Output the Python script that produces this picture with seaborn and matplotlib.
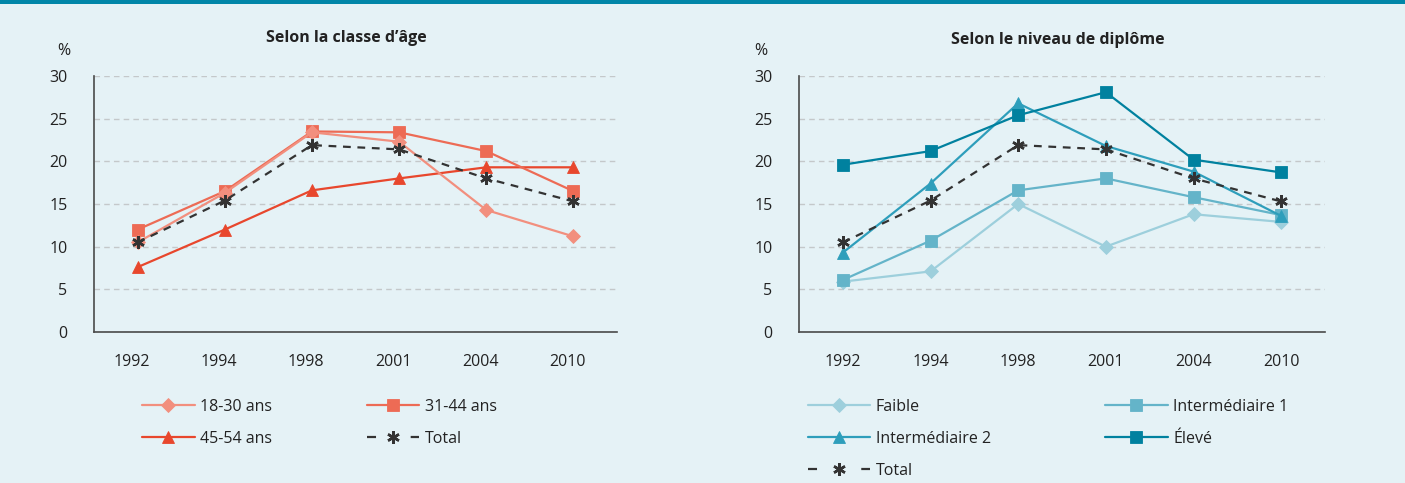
import matplotlib
matplotlib.use('Agg')
import matplotlib.pyplot as plt
import seaborn as sns
from matplotlib.patches import Rectangle
from matplotlib.transforms import ScaledTranslation

years = ['1992', '1994', '1998', '2001', '2004', '2010']

# Selon la classe d'âge
age_18_30 = [10.5, 16.3, 23.4, 22.3, 14.3, 11.2]
age_31_44 = [12.0, 16.5, 23.5, 23.4, 21.2, 16.5]
age_45_54 = [7.6, 12.0, 16.6, 18.0, 19.3, 19.3]
total = [10.5, 15.4, 21.9, 21.4, 18.0, 15.3]

# Selon le niveau de diplôme
faible = [5.9, 7.1, 15.0, 10.0, 13.8, 12.9]
inter_1 = [6.1, 10.7, 16.6, 18.0, 15.8, 13.7]
inter_2 = [9.3, 17.4, 26.8, 21.8, 18.8, 13.6]
eleve = [19.6, 21.2, 25.4, 28.1, 20.2, 18.7]

BG = '#e5f2f6'
TXT = '#222222'
LW = 1.6

sns.set_theme(style='white')
plt.rcParams['font.family'] = ['Open Sans', 'DejaVu Sans']

fig = plt.figure(figsize=(14.05, 4.83), dpi=100, facecolor=BG)
fig.add_artist(Rectangle((0, 1 - 4 / 483), 1, 4 / 483, transform=fig.transFigure,
                         color='#0086a8', lw=0))

ax1 = fig.add_axes([94 / 1405, 151 / 483, 523 / 1405, 256 / 483])
ax2 = fig.add_axes([799 / 1405, 151 / 483, 526 / 1405, 256 / 483])


def draw(ax, name, vals, color, marker, ms, dashed=False):
    kw = dict(color=color, marker=marker, markersize=ms, lw=LW, mec=color,
              label=name, sort=False, ax=ax)
    if dashed:
        kw.update(mew=1.8, dashes=(3.5, 3.0))
    else:
        kw.update(mew=0.6)
    sns.lineplot(x=years, y=vals, **kw)


draw(ax1, '45-54 ans', age_45_54, '#e8472d', '^', 8)
draw(ax1, '31-44 ans', age_31_44, '#ed6b55', 's', 8)
draw(ax1, '18-30 ans', age_18_30, '#f28f7e', 'D', 7)
draw(ax1, 'Total', total, '#333333', (6, 2, 0), 9, dashed=True)

draw(ax2, 'Faible', faible, '#9dcfdc', 'D', 7)
draw(ax2, 'Intermédiaire 1', inter_1, '#64b4c9', 's', 8)
draw(ax2, 'Intermédiaire 2', inter_2, '#2e9ebb', '^', 8)
draw(ax2, 'Élevé', eleve, '#00819f', 's', 8)
draw(ax2, 'Total', total, '#333333', (6, 2, 0), 9, dashed=True)

for ax in (ax1, ax2):
    ax.set_facecolor(BG)
    ax.set_xlim(-0.5, 5.5)
    ax.set_ylim(0, 30)
    ax.set_yticks(range(0, 31, 5))
    ax.set_xlabel('')
    ax.set_ylabel('')
    ax.yaxis.grid(True, color='#c4c8ca', lw=1.0, linestyle=(0, (4, 3)))
    ax.set_axisbelow(True)
    for s in ('top', 'right'):
        ax.spines[s].set_visible(False)
    for s in ('left', 'bottom'):
        ax.spines[s].set_color('#4a4a4a')
        ax.spines[s].set_linewidth(1.2)
    ax.tick_params(axis='y', length=0, pad=19, labelsize=11.5, labelcolor=TXT)
    ax.tick_params(axis='x', length=0, pad=16, labelsize=11.5, labelcolor=TXT)
    if ax.get_legend() is not None:
        ax.get_legend().remove()

for lbl in ax1.get_xticklabels():
    lbl.set_transform(lbl.get_transform() + ScaledTranslation(-6 / 100, 0, fig.dpi_scale_trans))

fig.text(346 / 1405, 1 - 38 / 483, 'Selon la classe d\u2019âge', ha='center', va='center',
         fontsize=11.5, fontweight='bold', color=TXT)
fig.text(1058 / 1405, 1 - 40 / 483, 'Selon le niveau de diplôme', ha='center', va='center',
         fontsize=11.5, fontweight='bold', color=TXT)
fig.text(64 / 1405, 1 - 51 / 483, '%', ha='center', va='center', fontsize=11.5, color=TXT)
fig.text(761 / 1405, 1 - 51 / 483, '%', ha='center', va='center', fontsize=11.5, color=TXT)

FS = 11.5


def make_legend(ax, order, x, hlen, colspace):
    h, l = ax.get_legend_handles_labels()
    lookup = dict(zip(l, h))
    leg = fig.legend([lookup[k] for k in order], order, loc='upper left',
                     bbox_to_anchor=(x, 1 - 399 / 483), ncol=2, frameon=False,
                     borderpad=0, borderaxespad=0, handlelength=hlen, handletextpad=0.35,
                     columnspacing=colspace, labelspacing=1.0, fontsize=FS)
    for text in leg.get_texts():
        text.set_color(TXT)
    # "– * –" style handle for the total: one short dash at each end
    span = hlen * FS
    on = 6.5
    for line, name in zip(leg.get_lines(), order):
        if name == 'Total':
            line.set_linestyle((0, (on / LW, (span - 2 * on) / LW)))
    return leg


make_legend(ax1, ['18-30 ans', '45-54 ans', '31-44 ans', 'Total'], 142 / 1405, 3.3, 5.9)
make_legend(ax2, ['Faible', 'Intermédiaire 2', 'Total', 'Intermédiaire 1', 'Élevé'],
            808 / 1405, 3.9, 7.15)

fig.savefig('out.png', dpi=100, facecolor=BG)
